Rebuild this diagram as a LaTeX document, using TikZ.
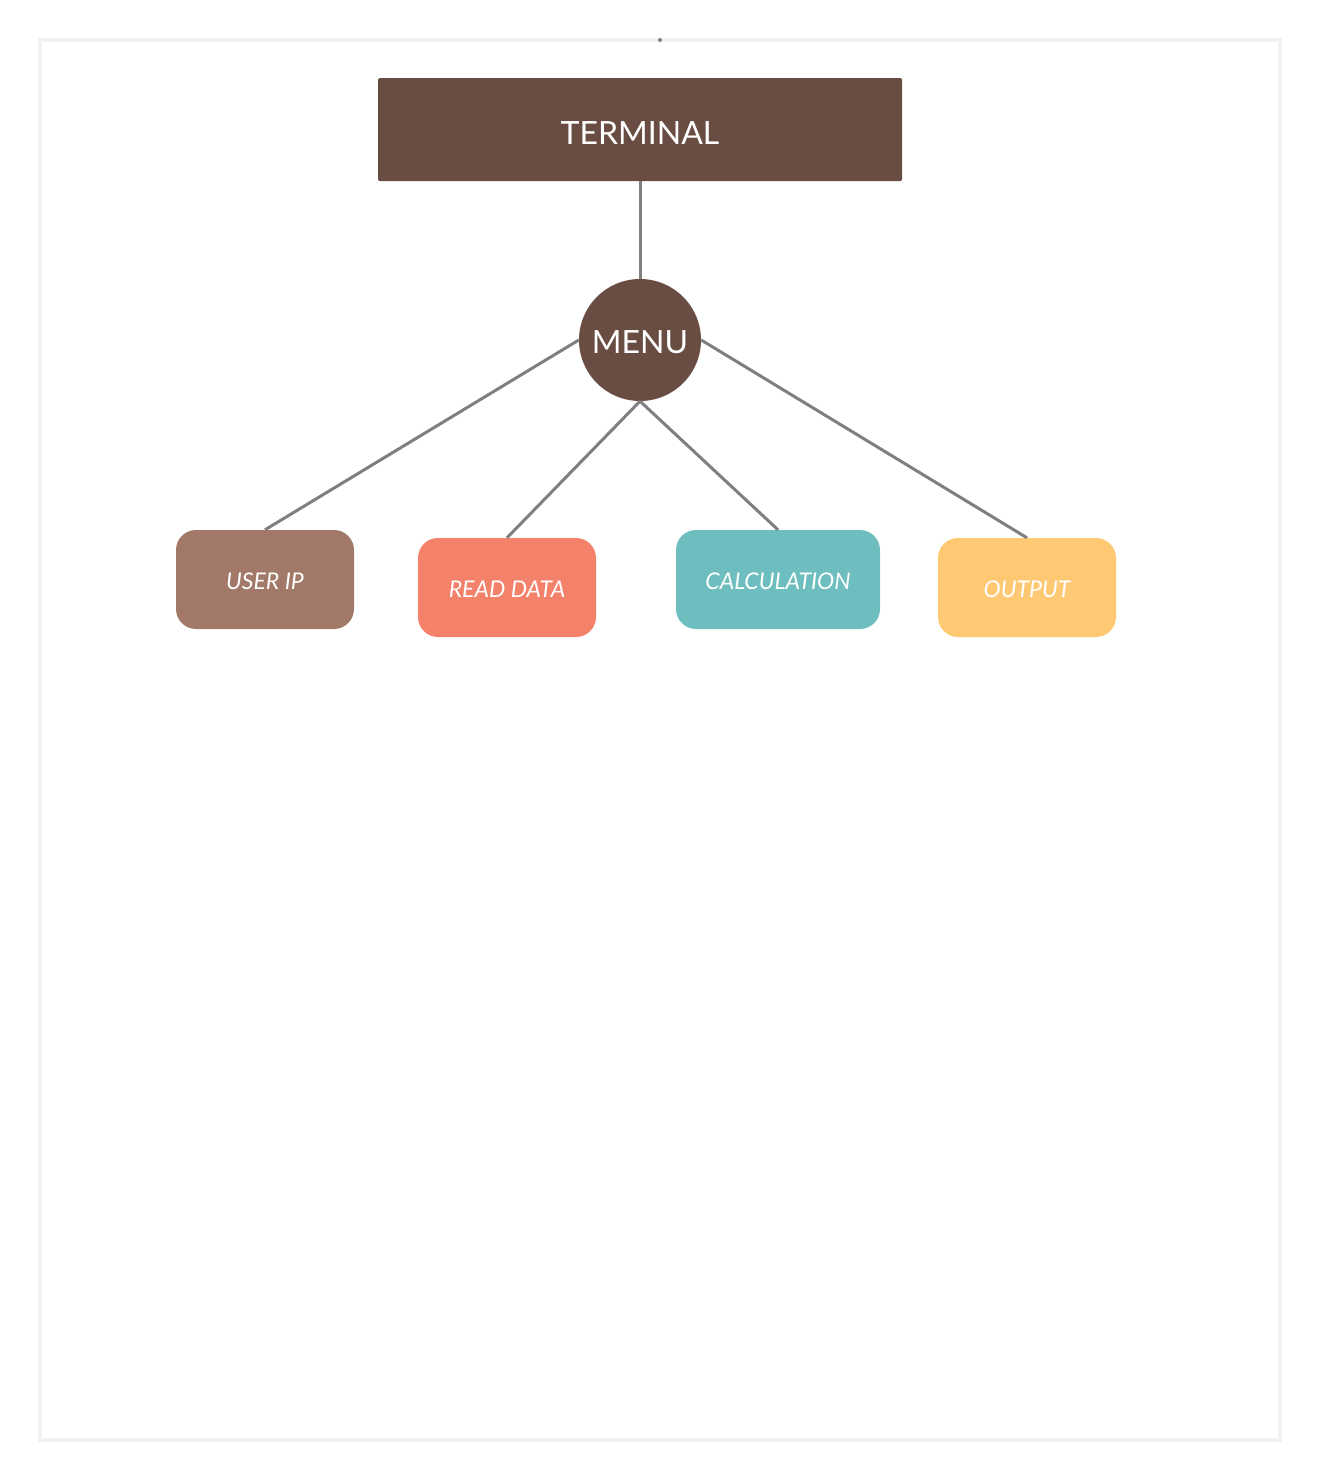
\documentclass[tikz,border=0pt]{standalone}
\usepackage{fontspec}
\setmainfont{Lato}
\definecolor{termbrown}{HTML}{694D42}
\definecolor{userbrown}{HTML}{A27968}
\definecolor{readsalmon}{HTML}{F4826B}
\definecolor{calcteal}{HTML}{6FBEBF}
\definecolor{outyellow}{HTML}{FFC974}
\definecolor{linegray}{HTML}{7F7F7F}
\definecolor{framegray}{HTML}{F2F2F2}
\tikzset{
  termbox/.style={draw=none, fill=termbrown, rectangle, rounded corners=1.5pt,
    minimum width=524pt, minimum height=103pt, inner sep=0pt, text=white,
    font=\fontsize{32}{38}\selectfont, text height=29pt, text depth=0pt},
  menucircle/.style={draw=none, fill=termbrown, circle, minimum size=122pt,
    inner sep=0pt, text=white, font=\fontsize{32}{38}\selectfont,
    text height=27pt, text depth=0pt},
  leaf/.style={draw=none, rectangle, rounded corners=20pt, minimum height=99pt,
    inner sep=0pt, text=white, font=\fontsize{23}{27}\selectfont\itshape,
    text height=20.5pt, text depth=0pt},
  conn/.style={draw=linegray, line width=3pt},
}
\begin{document}
\begin{tikzpicture}[x=1pt,y=-1pt]
\useasboundingbox (0,0) rectangle (1320,1481);
\draw[framegray, line width=4pt] (40,40) rectangle (1280,1440);
\fill[linegray] (660,40) circle (2pt);
\node[termbox] (term) at (640,129.5) {TERMINAL};
\node[menucircle] (menu) at (640,340) {MENU};
\node[leaf, fill=userbrown, minimum width=178pt] (user) at (265,579.5) {USER IP};
\node[leaf, fill=readsalmon, minimum width=178pt] (read) at (507,587.5) {READ DATA};
\node[leaf, fill=calcteal, minimum width=204pt] (calc) at (778,579.5) {CALCULATION};
\node[leaf, fill=outyellow, minimum width=178pt] (out) at (1027,587.5) {OUTPUT};
\draw[conn] (term.south) -- (menu.north);
\draw[conn] (menu.west) -- (user.north);
\draw[conn] (menu.south) -- (read.north);
\draw[conn] (menu.south) -- (calc.north);
\draw[conn] (menu.east) -- (out.north);
\end{tikzpicture}
\end{document}
